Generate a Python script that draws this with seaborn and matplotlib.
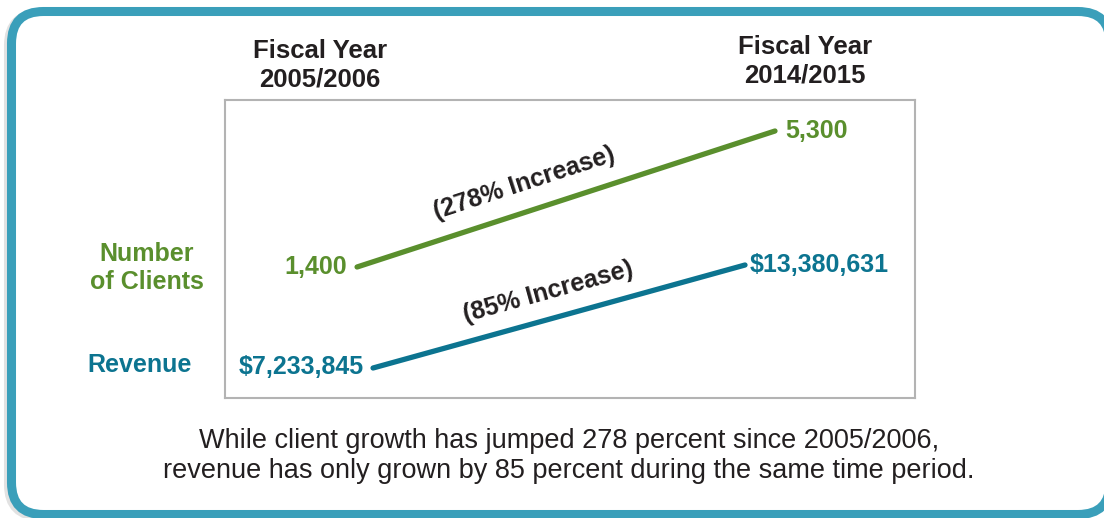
import numpy as np
import pandas as pd
import matplotlib
import matplotlib.pyplot as plt
matplotlib.use('Agg')
import seaborn as sns
from matplotlib.patches import FancyBboxPatch

periods = ["Fiscal Year\n2005/2006", "Fiscal Year\n2014/2015"]
clients = [1400, 5300]
revenue = [7233845, 13380631]
client_labels = ["1,400", "5,300"]
revenue_labels = ["$7,233,845", "$13,380,631"]
client_change = "(278% Increase)"
revenue_change = "(85% Increase)"
caption = ("While client growth has jumped 278 percent since 2005/2006,\n"
           "revenue has only grown by 85 percent during the same time period.")

green = '#5a8f2d'
teal = '#0c7490'
dark = '#231f20'

sns.set_theme(style='white')
plt.rcParams['font.family'] = ['Liberation Sans', 'DejaVu Sans']

W, H = 1104, 518
fig = plt.figure(figsize=(W / 100, H / 100), dpi=100)

# background frame (pixel coordinates)
bg = fig.add_axes([0, 0, 1, 1])
bg.set_xlim(0, W)
bg.set_ylim(H, 0)
bg.axis('off')
shadow = FancyBboxPatch((8.5, 13.5), 1098.5, 503, boxstyle='round,pad=0,rounding_size=32',
                        fc='none', ec='#e2e2e2', lw=6.5, zorder=1)
bg.add_patch(shadow)
frame = FancyBboxPatch((11.5, 11.5), 1098.5, 503, boxstyle='round,pad=0,rounding_size=32',
                       fc='white', ec='#3a9fba', lw=6.5, zorder=2)
bg.add_patch(frame)

box = [225 / W, 1 - 398 / H, 690 / W, 298 / H]
df_c = pd.DataFrame({'x': range(len(periods)), 'y': clients})
df_r = pd.DataFrame({'x': range(len(periods)), 'y': revenue})

ax_c = fig.add_axes(box)
ax_r = fig.add_axes(box)
ax_r.patch.set_alpha(0)

sns.lineplot(data=df_c, x='x', y='y', ax=ax_c, color=green, linewidth=3.8,
             solid_capstyle='round')
sns.lineplot(data=df_r, x='x', y='y', ax=ax_r, color=teal, linewidth=3.8,
             solid_capstyle='round')

ax_c.set_xlim(-0.316, 1.335)
ax_c.set_ylim(-2357, 6189)
ax_r.set_xlim(-0.398, 1.457)
ax_r.set_ylim(5443535, 23227336)

for a in (ax_c, ax_r):
    a.set_xticks([])
    a.set_yticks([])
    a.set_xlabel('')
    a.set_ylabel('')
for s in ax_c.spines.values():
    s.set_color('#b3b3b3')
    s.set_linewidth(1.5)
for s in ax_r.spines.values():
    s.set_visible(False)

fs = 18
ax_c.annotate(client_labels[0], (0, clients[0]), xytext=(-10, 0), textcoords='offset pixels',
              ha='right', va='center', color=green, fontsize=fs, fontweight='bold')
ax_c.annotate(client_labels[1], (1, clients[1]), xytext=(10, 0), textcoords='offset pixels',
              ha='left', va='center', color=green, fontsize=fs, fontweight='bold')
ax_r.annotate(revenue_labels[0], (0, revenue[0]), xytext=(-9, 1), textcoords='offset pixels',
              ha='right', va='center', color=teal, fontsize=fs, fontweight='bold')
ax_r.annotate(revenue_labels[1], (1, revenue[1]), xytext=(5, 0), textcoords='offset pixels',
              ha='left', va='center', color=teal, fontsize=fs, fontweight='bold')


def slope_label(ax, ys, text, frac, off):
    p0 = ax.transData.transform((0, ys[0]))
    p1 = ax.transData.transform((1, ys[1]))
    d = p1 - p0
    ang = np.degrees(np.arctan2(d[1], d[0]))
    n = np.array([-d[1], d[0]]) / np.hypot(*d)
    pos = p0 + frac * d + off * n
    fig.text(pos[0] / W, pos[1] / H, text, rotation=ang, rotation_mode='anchor',
             ha='center', va='center', color=dark, fontsize=fs, fontweight='bold')


slope_label(ax_c, clients, client_change, 0.42, 28)
slope_label(ax_r, revenue, revenue_change, 0.49, 26)

# period headings
fig.text(320 / W, 1 - 65 / H, periods[0], ha='center', va='center', color=dark,
         fontsize=18.5, fontweight='bold', linespacing=1.25)
fig.text(805 / W, 1 - 61 / H, periods[1], ha='center', va='center', color=dark,
         fontsize=18.5, fontweight='bold', linespacing=1.25)

# row labels
fig.text(147 / W, 1 - 268 / H, "Number\nof Clients", ha='center', va='center', color=green,
         fontsize=fs, fontweight='bold', linespacing=1.25)
fig.text(140 / W, 1 - 365 / H, "Revenue", ha='center', va='center', color=teal,
         fontsize=fs, fontweight='bold')

fig.text(569 / W, 1 - 456 / H, caption, ha='center', va='center', color=dark,
         fontsize=19.5, linespacing=1.2)

fig.savefig('out.png', dpi=100)
